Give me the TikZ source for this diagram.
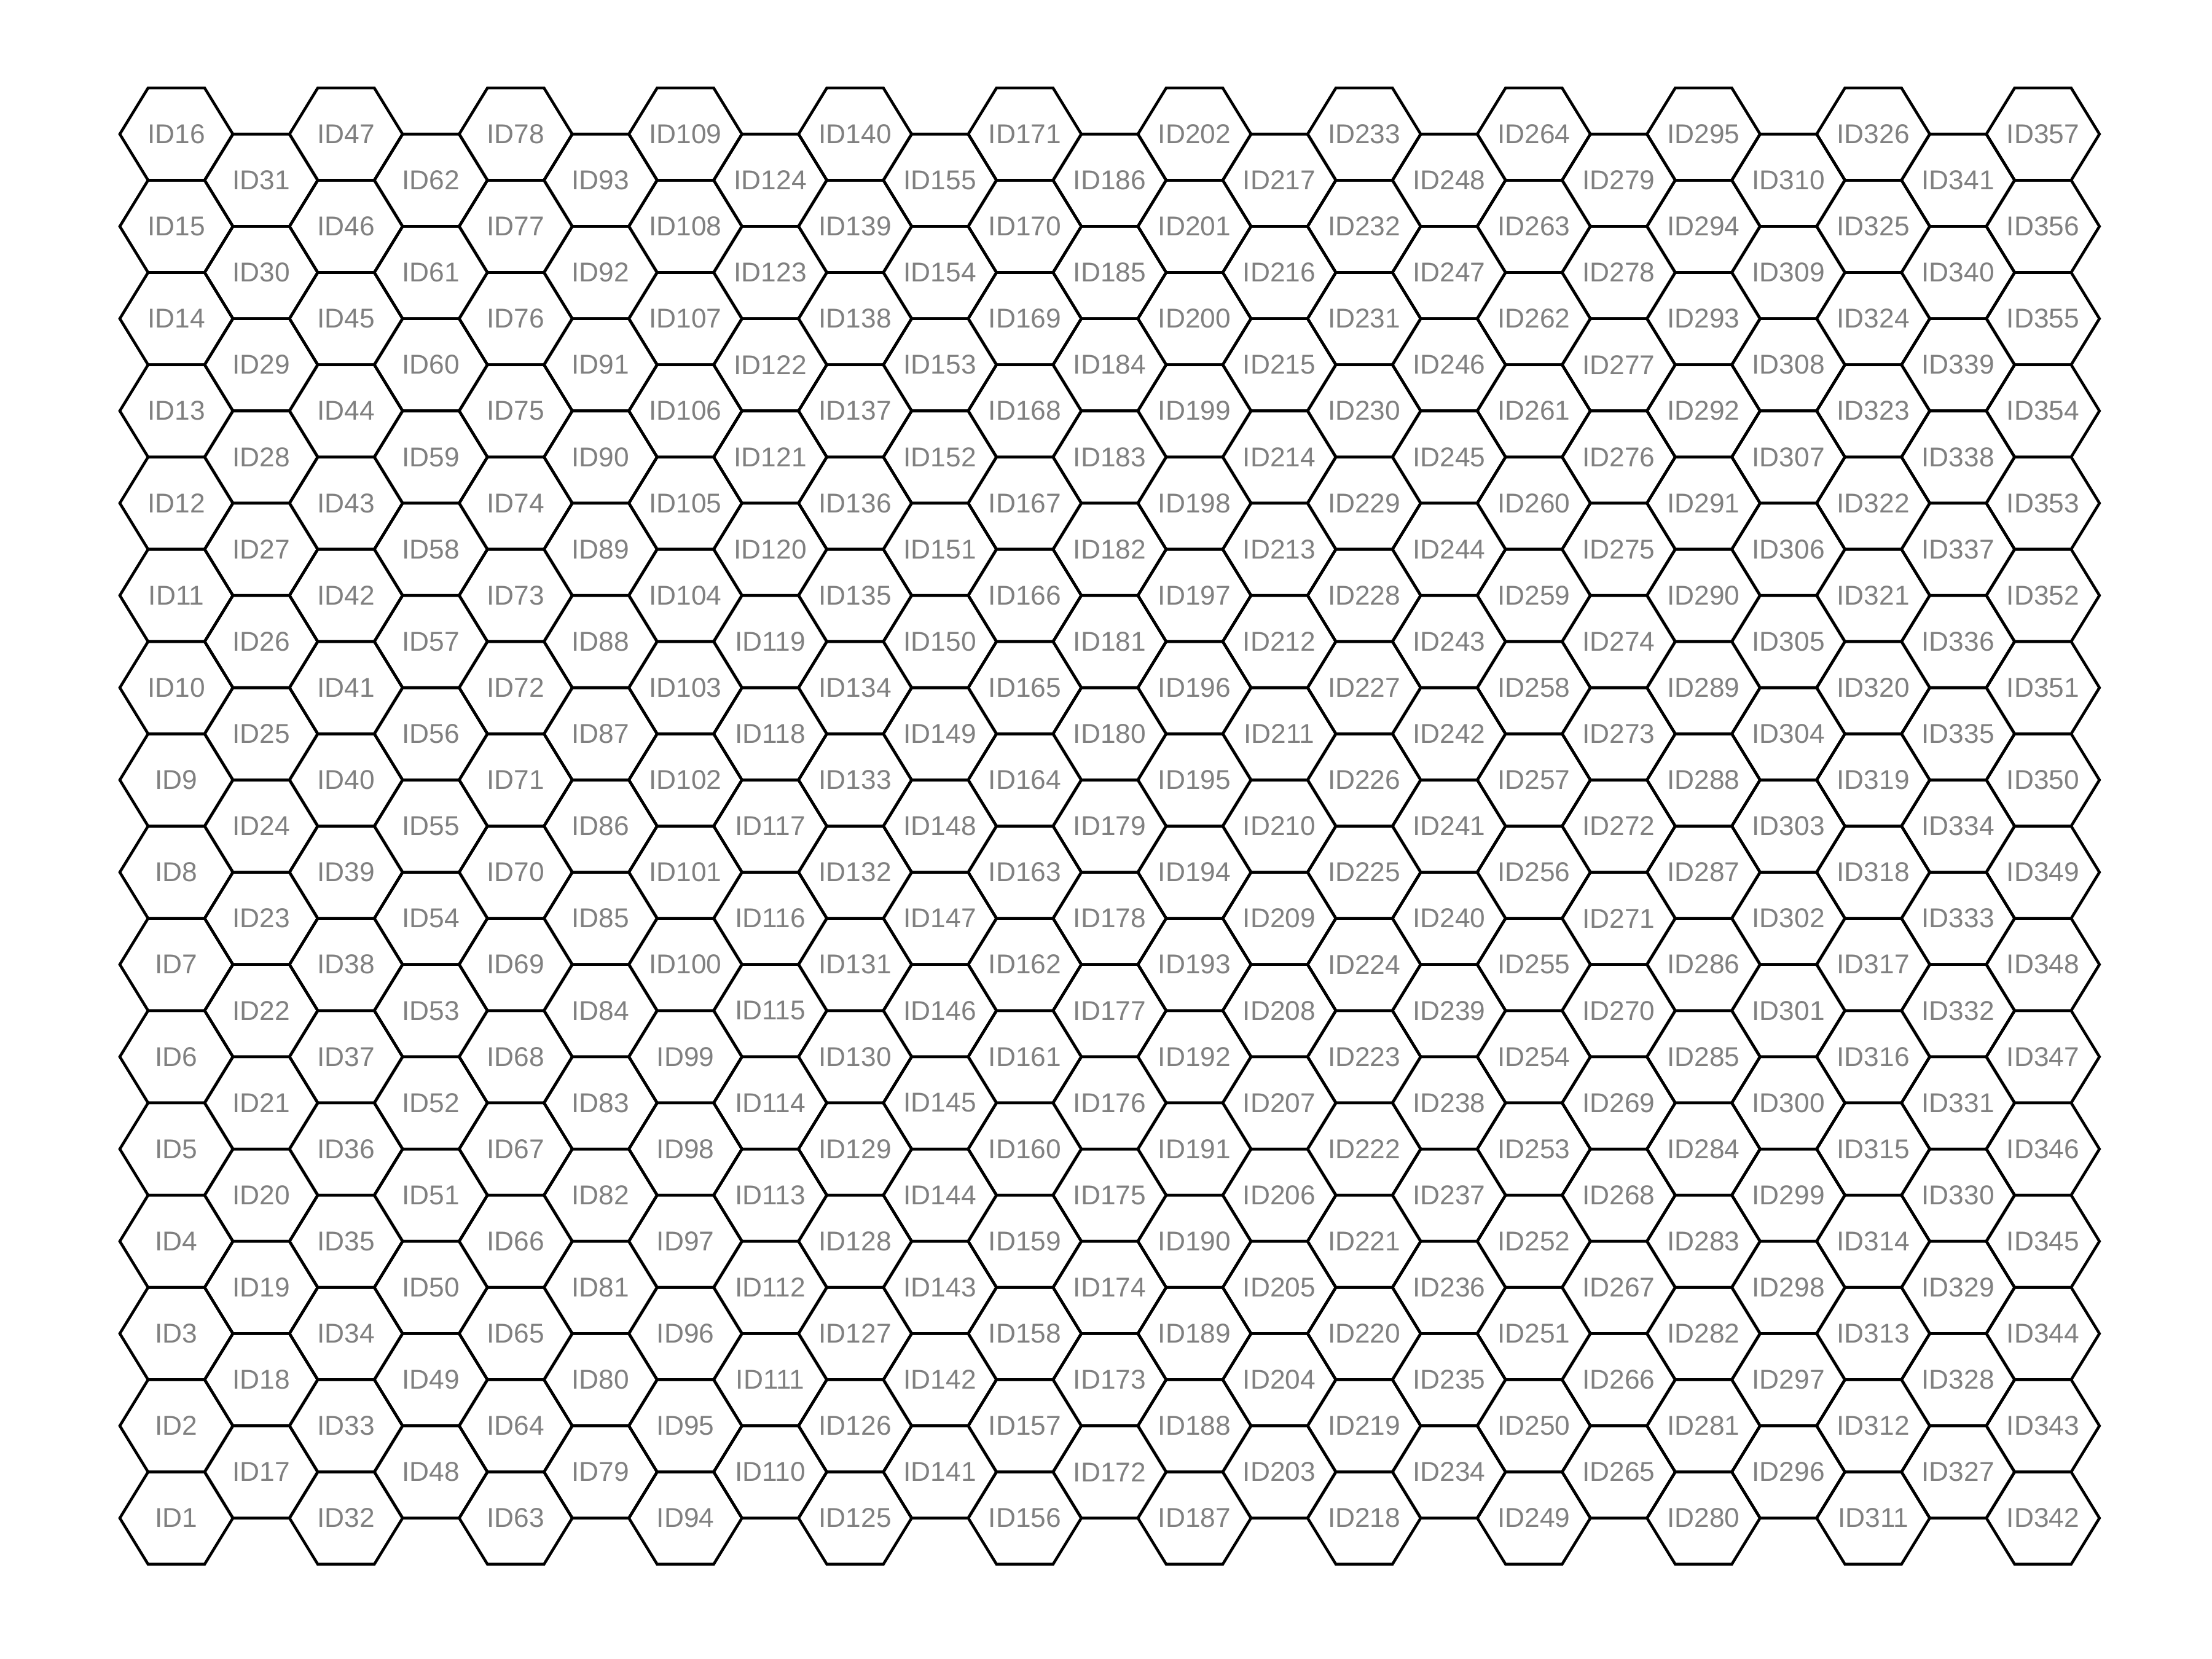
\documentclass[tikz,border=0pt]{standalone}
\usepackage{fontspec}
\setmainfont{Liberation Sans}
\usepackage{xcolor}
\definecolor{idgray}{RGB}{128,128,128}

\tikzset{
	hexline/.style={draw=black, line width=1.3pt},
	idlabel/.style={text=idgray, font=\fontsize{12.6}{15}\selectfont, inner sep=0pt}
}

\begin{document}
\begin{tikzpicture}
			
			\useasboundingbox (0,0) rectangle (36,27);
			
			% columns of hexagons, odd ones shifted up by half a cell
			\foreach \c in {0,...,22}{
				\pgfmathtruncatemacro{\nrow}{mod(\c,2)==0 ? 15 : 14}
				\pgfmathtruncatemacro{\first}{mod(\c,2)==0 ? 1+15.5*\c : 17+15.5*(\c-1)}
				\pgfmathsetmacro{\yoff}{mod(\c,2)==0 ? 0 : 0.7508}
				\foreach \r in {0,...,\nrow}{
					\pgfmathtruncatemacro{\idnum}{\first+\r}
					\draw[hexline, shift={(2.87+1.3808*\c, 2.293+\yoff+1.5016*\r)}]
					(-0.92,0) -- (-0.46,0.7508) -- (0.46,0.7508) -- (0.92,0)
					-- (0.46,-0.7508) -- (-0.46,-0.7508) -- cycle
					(0,0) node[idlabel] (id\idnum) {ID\idnum};
				}
			}
			
		\end{tikzpicture}
\end{document}
